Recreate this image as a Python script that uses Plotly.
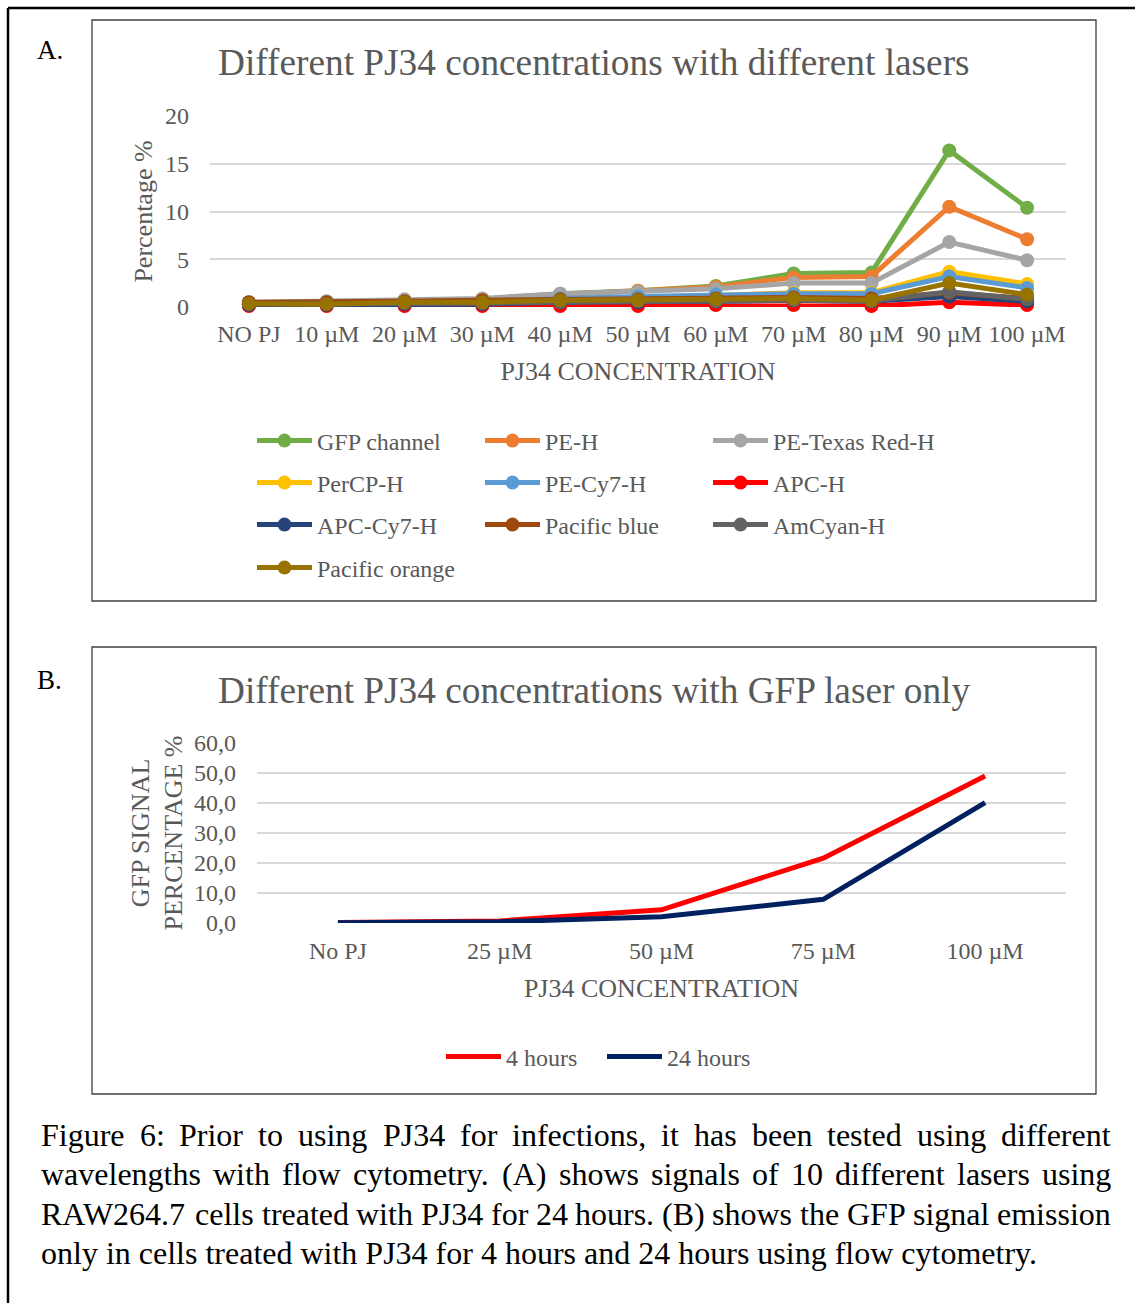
import plotly.graph_objects as go

W, H = 1135, 1303


def fx(p):
    return p / W


def fy(p):
    return 1 - p / H


FONT = "Liberation Serif"
GREY = "#595959"

# ---------------- data: chart A ----------------
conc_a = ["NO PJ", "10 µM", "20 µM", "30 µM", "40 µM", "50 µM",
          "60 µM", "70 µM", "80 µM", "90 µM", "100 µM"]
gfp_channel = [0.4, 0.4, 0.6, 0.8, 1.4, 1.7, 2.2, 3.5, 3.6, 16.4, 10.4]
pe_h = [0.4, 0.4, 0.6, 0.8, 1.3, 1.7, 2.1, 3.1, 3.2, 10.5, 7.1]
pe_texas_red_h = [0.5, 0.6, 0.8, 0.9, 1.4, 1.6, 1.9, 2.5, 2.5, 6.8, 4.9]
percp_h = [0.3, 0.3, 0.4, 0.5, 0.8, 1.0, 1.2, 1.5, 1.5, 3.7, 2.4]
pe_cy7_h = [0.3, 0.3, 0.4, 0.5, 0.9, 1.1, 1.3, 1.4, 1.4, 3.2, 2.0]
apc_h = [0.1, 0.1, 0.1, 0.1, 0.1, 0.1, 0.2, 0.2, 0.1, 0.5, 0.2]
apc_cy7_h = [0.2, 0.2, 0.3, 0.3, 0.5, 0.5, 0.6, 0.7, 0.6, 1.1, 0.6]
pacific_blue = [0.5, 0.5, 0.6, 0.7, 0.8, 0.8, 0.9, 1.0, 0.9, 1.5, 0.9]
amcyan_h = [0.3, 0.3, 0.4, 0.4, 0.5, 0.6, 0.6, 0.7, 0.6, 1.6, 0.8]
pacific_orange = [0.35, 0.3, 0.5, 0.5, 0.7, 0.7, 0.8, 0.9, 0.7, 2.5, 1.3]

series_names_a = ["GFP channel", "PE-H", "PE-Texas Red-H", "PerCP-H", "PE-Cy7-H",
                  "APC-H", "APC-Cy7-H", "Pacific blue", "AmCyan-H", "Pacific orange"]
series_values_a = [gfp_channel, pe_h, pe_texas_red_h, percp_h, pe_cy7_h,
                   apc_h, apc_cy7_h, pacific_blue, amcyan_h, pacific_orange]
series_colors_a = ["#70AD47", "#ED7D31", "#A5A5A5", "#FFC000", "#5B9BD5",
                   "#FF0000", "#264478", "#9E480E", "#636363", "#997300"]

# ---------------- data: chart B ----------------
conc_b = ["No PJ", "25 µM", "50 µM", "75 µM", "100 µM"]
hours_4 = [0.2, 0.7, 4.4, 21.6, 49.0]
hours_24 = [0.1, 0.4, 2.1, 7.9, 40.1]

fig = go.Figure()

legend_rows = ["legend", "legend", "legend", "legend2", "legend2", "legend2",
               "legend3", "legend3", "legend3", "legend4"]
for name, vals, col, lg in zip(series_names_a, series_values_a, series_colors_a, legend_rows):
    fig.add_trace(go.Scatter(
        x=conc_a, y=vals, name=name, mode="lines+markers",
        line=dict(color=col, width=5),
        marker=dict(color=col, size=14),
        xaxis="x", yaxis="y", legend=lg, cliponaxis=False,
    ))

fig.add_trace(go.Scatter(x=conc_b, y=hours_4, name="4 hours", mode="lines",
                         line=dict(color="#FF0000", width=5),
                         xaxis="x2", yaxis="y2", legend="legend5", cliponaxis=False))
fig.add_trace(go.Scatter(x=conc_b, y=hours_24, name="24 hours", mode="lines",
                         line=dict(color="#002060", width=5),
                         xaxis="x2", yaxis="y2", legend="legend5", cliponaxis=False))

axis_common = dict(showline=False, ticks="", tickfont=dict(family=FONT, size=24, color=GREY),
                   zeroline=False, fixedrange=True, automargin=False)

legend_common = dict(orientation="h", font=dict(family=FONT, size=24, color=GREY),
                     bgcolor="rgba(0,0,0,0)", itemwidth=55, entrywidth=158,
                     xanchor="left", yanchor="middle", itemclick=False, itemdoubleclick=False)

fig.update_layout(
    width=W, height=H, autosize=False,
    margin=dict(l=0, r=0, t=0, b=0, pad=0, autoexpand=False),
    paper_bgcolor="white", plot_bgcolor="white",
    separators=",.",
    font=dict(family=FONT, color=GREY),
    showlegend=True,
    xaxis=dict(domain=[fx(210), fx(1066)], anchor="y", type="category",
               range=[-0.5, 10.5], showgrid=False, ticklabelstandoff=10,
               title=dict(text="PJ34 CONCENTRATION", font=dict(family=FONT, size=26, color=GREY),
                          standoff=15),
               **axis_common),
    yaxis=dict(domain=[fy(307), fy(116)], anchor="x", range=[0, 20], dtick=5,
               showgrid=True, gridcolor="#D9D9D9", gridwidth=1.5, ticklabelstandoff=20,
               title=dict(text="Percentage %", font=dict(family=FONT, size=26, color=GREY),
                          standoff=4),
               **axis_common),
    xaxis2=dict(domain=[fx(257), fx(1066)], anchor="y2", type="category",
                range=[-0.5, 4.5], showgrid=False, ticklabelstandoff=11,
                title=dict(text="PJ34 CONCENTRATION", font=dict(family=FONT, size=26, color=GREY),
                           standoff=15),
                **axis_common),
    yaxis2=dict(domain=[fy(923), fy(743)], anchor="x2", range=[0, 60], dtick=10,
                tickformat=".1f",
                showgrid=True, gridcolor="#D9D9D9", gridwidth=1.5, ticklabelstandoff=20,
                title=dict(text="GFP SIGNAL<br>PERCENTAGE %",
                           font=dict(family=FONT, size=26, color=GREY), standoff=3),
                **axis_common),
    legend=dict(x=fx(252), y=fy(441), **legend_common),
    legend2=dict(x=fx(252), y=fy(483), **legend_common),
    legend3=dict(x=fx(252), y=fy(525), **legend_common),
    legend4=dict(x=fx(252), y=fy(568), **legend_common),
    legend5=dict(x=fx(441), y=fy(1057), orientation="h",
                 font=dict(family=FONT, size=24, color=GREY), bgcolor="rgba(0,0,0,0)",
                 itemwidth=55, entrywidth=91, xanchor="left", yanchor="middle"),
)

# frames / boxes
shapes = [
    dict(type="line", xref="paper", yref="paper", x0=fx(8), x1=fx(1140), y0=fy(8), y1=fy(8),
         line=dict(color="black", width=2.5)),
    dict(type="line", xref="paper", yref="paper", x0=fx(8), x1=fx(8), y0=fy(8), y1=fy(1310),
         line=dict(color="black", width=2.5)),
    dict(type="rect", xref="paper", yref="paper", x0=fx(92), x1=fx(1096), y0=fy(601), y1=fy(20),
         line=dict(color="#404040", width=1.3)),
    dict(type="rect", xref="paper", yref="paper", x0=fx(92), x1=fx(1096), y0=fy(1094), y1=fy(647),
         line=dict(color="#404040", width=1.3)),
]
fig.update_layout(shapes=shapes)

annotations = [
    dict(text="Different PJ34 concentrations with different lasers", x=fx(594), y=fy(63),
         font=dict(family=FONT, size=37.3, color=GREY)),
    dict(text="Different PJ34 concentrations with GFP laser only", x=fx(594), y=fy(690),
         font=dict(family=FONT, size=37.3, color=GREY)),
    dict(text="A.", x=fx(35), y=fy(50), xanchor="left", font=dict(family=FONT, size=27, color="black")),
    dict(text="B.", x=fx(35), y=fy(680), xanchor="left", font=dict(family=FONT, size=27, color="black")),
]

# ---------------- caption (justified) ----------------
TW = {' ': 250, 'a': 444, 'b': 500, 'c': 444, 'd': 500, 'e': 444, 'f': 333, 'g': 500, 'h': 500,
      'i': 278, 'j': 278, 'k': 500, 'l': 278, 'm': 778, 'n': 500, 'o': 500, 'p': 500, 'q': 500,
      'r': 333, 's': 389, 't': 278, 'u': 500, 'v': 500, 'w': 722, 'x': 500, 'y': 500, 'z': 444,
      'A': 722, 'B': 667, 'C': 667, 'D': 722, 'E': 611, 'F': 556, 'G': 722, 'H': 722, 'I': 333,
      'J': 389, 'K': 722, 'L': 611, 'M': 889, 'N': 722, 'O': 722, 'P': 556, 'Q': 722, 'R': 667,
      'S': 556, 'T': 611, 'U': 722, 'V': 722, 'W': 944, 'X': 722, 'Y': 722, 'Z': 611,
      '.': 250, ',': 250, ':': 278, '(': 333, ')': 333, '-': 333}
CAP_SIZE = 32
caption_lines = [
    "Figure 6: Prior to using PJ34 for infections, it has been tested using different",
    "wavelengths with flow cytometry. (A) shows signals of 10 different lasers using",
    "RAW264.7 cells treated with PJ34 for 24 hours. (B) shows the GFP signal emission",
    "only in cells treated with PJ34 for 4 hours and 24 hours using flow cytometry.",
]
line_ys = [1135, 1174, 1214, 1253]
left, right = 42, 1112


def wwidth(w):
    return sum(TW.get(c, 500) for c in w) * CAP_SIZE / 1000.0


for i, (ln, yy) in enumerate(zip(caption_lines, line_ys)):
    if i == len(caption_lines) - 1:
        annotations.append(dict(text=ln, x=fx(left - 3), y=fy(yy), xanchor="left",
                                font=dict(family=FONT, size=CAP_SIZE, color="black")))
        continue
    words = ln.split(" ")
    widths = [wwidth(w) for w in words]
    gap = (right - left - sum(widths)) / (len(words) - 1)
    xpos = left
    for w, wd in zip(words, widths):
        annotations.append(dict(text=w, x=fx(xpos - 3), y=fy(yy), xanchor="left",
                                font=dict(family=FONT, size=CAP_SIZE, color="black")))
        xpos += wd + gap

for a in annotations:
    a.setdefault("xref", "paper")
    a.setdefault("yref", "paper")
    a.setdefault("showarrow", False)
    a.setdefault("yanchor", "middle")
fig.update_layout(annotations=annotations)

fig.write_html("out.html")
